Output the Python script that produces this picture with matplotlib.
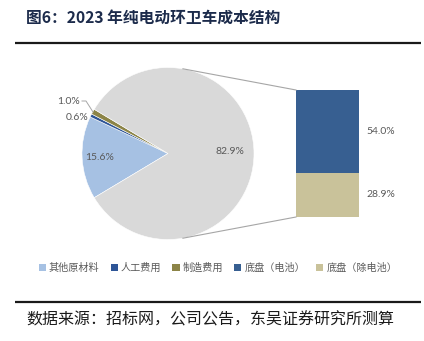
import numpy as np
import matplotlib
matplotlib.use("Agg")
import matplotlib.pyplot as plt
from matplotlib.patches import Patch, Rectangle

plt.rcParams['font.family'] = ['Noto Sans CJK SC', 'DejaVu Sans']

# ---- data ----
pie_labels = ["其他原材料", "人工费用", "制造费用", "底盘"]
pie_values = [15.6, 0.6, 1.0, 82.9]
bar_labels = ["底盘（电池）", "底盘（除电池）"]
bar_values = [54.0, 28.9]
legend_labels = ["其他原材料", "人工费用", "制造费用", "底盘（电池）", "底盘（除电池）"]

title = "图6：2023 年纯电动环卫车成本结构"
source = "数据来源：招标网，公司公告，东吴证券研究所测算"

pie_colors = ["#A6C1E3", "#2E5597", "#8C8447", "#D9D9D9"]
bar_colors = ["#375F91", "#C9C29A"]

W, H = 424, 341
fig = plt.figure(figsize=(W / 100, H / 100), dpi=100)
ax = fig.add_axes([0, 0, 1, 1])
ax.set_xlim(0, W)
ax.set_ylim(0, H)
ax.set_aspect('equal')
ax.axis('off')

def Y(p):
    return H - p

# ---- pie ----
cx, cy, r = 168, Y(153.5), 86
other_share = pie_values[-1] / sum(pie_values) * 360
small_total = 360 - other_share
start = 180 + small_total / 2
wedges, _ = ax.pie(pie_values, colors=pie_colors, center=(cx, cy), radius=r,
                   startangle=start, counterclock=False,
                   wedgeprops=dict(linewidth=0.4, edgecolor='white'))
ax.set_xlim(0, W)
ax.set_ylim(0, H)

lab_col = "#595959"
nf = ['Lato', 'DejaVu Sans']
ax.text(230, Y(152), f"{pie_values[3]:.1f}%", fontsize=7.5, color=lab_col, family=nf,
        ha='center', va='center')
ax.text(100, Y(157), f"{pie_values[0]:.1f}%", fontsize=7.5, color=lab_col, family=nf,
        ha='center', va='center')
ax.text(88, Y(118), f"{pie_values[1]:.1f}%", fontsize=7.5, color=lab_col, family=nf,
        ha='right', va='center')
ax.text(80, Y(101), f"{pie_values[2]:.1f}%", fontsize=7.5, color=lab_col, family=nf,
        ha='right', va='center')
ax.plot([82, 86, 93], [Y(101), Y(101), Y(112)], color="#A6A6A6", lw=0.7)

# ---- bar ----
bx0, bx1 = 296, 359
btop, bbot = Y(90), Y(217)
total_bar = sum(bar_values)
scale = (btop - bbot) / total_bar
y = btop
for v, c in zip(bar_values, bar_colors):
    h = v * scale
    ax.add_patch(Rectangle((bx0, y - h), bx1 - bx0, h, facecolor=c, edgecolor='none'))
    ax.text(366, y - h / 2, f"{v:.1f}%", fontsize=7.5, color=lab_col, family=nf,
            ha='left', va='center')
    y -= h

# connectors
ang = np.deg2rad(80)
ax.plot([cx + r * np.cos(ang), bx0], [cy + r * np.sin(ang), btop], color="#A6A6A6", lw=0.8)
ax.plot([cx + r * np.cos(-ang), bx0], [cy + r * np.sin(-ang), bbot], color="#A6A6A6", lw=0.8)

# ---- legend ----
leg_colors = pie_colors[:3] + bar_colors
handles = [Patch(facecolor=c, edgecolor='none') for c in leg_colors]
fig.legend(handles, legend_labels, loc='center', bbox_to_anchor=(218 / W, 1 - 268 / H),
           ncol=5, frameon=False, fontsize=7.3, handlelength=0.7, handleheight=0.7,
           handletextpad=0.3, columnspacing=1.1, labelcolor=lab_col)

# ---- title & source ----
ax.text(26, Y(18), title, fontsize=11.3, fontweight='bold', color="#1C2B4B",
        ha='left', va='center')
ax.plot([15, 421], [Y(43), Y(43)], color="#1A1A1A", lw=1.6, solid_capstyle='butt')
ax.plot([15, 421], [Y(302), Y(302)], color="#1A1A1A", lw=1.6, solid_capstyle='butt')
ax.text(26, Y(320), source, fontsize=11.5, color="#1A1A1A", ha='left', va='center')

fig.savefig("out.png", dpi=100)
